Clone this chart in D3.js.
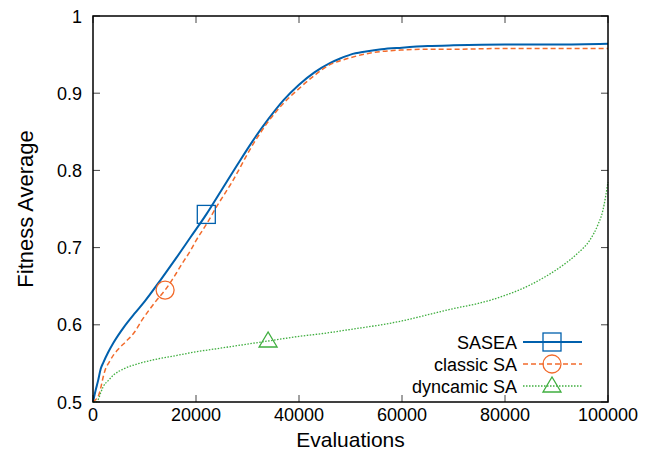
<!DOCTYPE html>
<html><head><meta charset="utf-8">
<script src="https://cdn.jsdelivr.net/npm/d3@7"></script>
<style>body{margin:0;background:#fff}svg{display:block}text{font-family:"Liberation Sans",Arial,Helvetica,sans-serif;fill:#000}</style>
</head><body>
<script>
// Data
const seriesNames = ["SASEA", "classic SA", "dyncamic SA"];
const saseaX = [0,500,1000,1500,2000,3000,4000,6000,8000,10000,13000,16000,19000,22000,25000,28000,31000,34000,37000,40000,43000,46000,48000,50000,53000,56000,60000,65000,70000,80000,90000,100000];
const saseaY = [0.5,0.515,0.528,0.543,0.551,0.565,0.577,0.597,0.614,0.630,0.657,0.685,0.714,0.743,0.775,0.807,0.838,0.866,0.891,0.911,0.927,0.939,0.945,0.950,0.954,0.957,0.959,0.961,0.962,0.963,0.963,0.964];
const classicX = [0,500,1000,1500,2000,2500,3000,4000,5000,6500,8000,9500,11000,12500,14000,16000,17000,19000,20000,22000,24000,27000,31000,34000,37000,40000,43000,46000,48000,50000,53000,56000,60000,65000,70000,80000,90000,100000];
const classicY = [0.5,0.503,0.507,0.518,0.533,0.544,0.550,0.561,0.569,0.579,0.590,0.606,0.620,0.633,0.645,0.665,0.676,0.697,0.709,0.730,0.753,0.785,0.833,0.863,0.887,0.906,0.923,0.937,0.942,0.946,0.951,0.954,0.956,0.957,0.957,0.958,0.958,0.958];
const dynX = [0,500,1000,1500,2000,3000,4000,6000,9000,12000,16000,20000,25000,30000,34000,40000,45000,50000,55000,60000,65000,70000,75000,80000,85000,88000,91000,94000,96500,98000,99000,100000];
const dynY = [0.5,0.500,0.503,0.512,0.520,0.528,0.535,0.543,0.550,0.555,0.560,0.565,0.570,0.575,0.579,0.585,0.589,0.594,0.599,0.605,0.613,0.621,0.628,0.638,0.652,0.663,0.676,0.692,0.710,0.729,0.748,0.785];
const markerX = [22000, 14000, 34000];
const xTicks = [0,20000,40000,60000,80000,100000];
const yTicks = [0.5,0.6,0.7,0.8,0.9,1];

const W = 649, H = 456;
const m = {l:93, r:608, t:16, b:402};
const svg = d3.select("body").append("svg").attr("width", W).attr("height", H);
const x = d3.scaleLinear().domain([0,100000]).range([m.l, m.r]);
const y = d3.scaleLinear().domain([0.5,1]).range([m.b, m.t]);

const colors = ["#0060ad", "#f26b2c", "#3fae3f"];
const dashes = [null, "5,3", "1.5,1.5"];
const widths = [2, 1.5, 1.3];
const xs = [saseaX, classicX, dynX];
const ys = [saseaY, classicY, dynY];

// ticks (inside, mirrored)
const tickLen = 7;
const g = svg.append("g");
xTicks.forEach(t => {
  g.append("line").attr("x1", x(t)).attr("x2", x(t)).attr("y1", m.b).attr("y2", m.b - tickLen).attr("stroke", "#444").attr("stroke-width", 1);
  g.append("line").attr("x1", x(t)).attr("x2", x(t)).attr("y1", m.t).attr("y2", m.t + tickLen).attr("stroke", "#444").attr("stroke-width", 1);
  g.append("text").attr("x", x(t)).attr("y", 421).attr("text-anchor", "middle").attr("font-size", 18).text(t);
});
yTicks.forEach(t => {
  g.append("line").attr("x1", m.l).attr("x2", m.l + tickLen).attr("y1", y(t)).attr("y2", y(t)).attr("stroke", "#444").attr("stroke-width", 1);
  g.append("line").attr("x1", m.r).attr("x2", m.r - tickLen).attr("y1", y(t)).attr("y2", y(t)).attr("stroke", "#444").attr("stroke-width", 1);
  g.append("text").attr("x", 82).attr("y", y(t) + 6.5).attr("text-anchor", "end").attr("font-size", 18).text(t === 1 ? "1" : d3.format(".1f")(t));
});

// lines
const line = d3.line().x(d => x(d[0])).y(d => y(d[1])).curve(d3.curveMonotoneX);
for (let i = 0; i < 3; i++) {
  const pts = xs[i].map((v, j) => [v, ys[i][j]]);
  svg.append("path").datum(pts).attr("d", line).attr("fill", "none")
    .attr("stroke", colors[i]).attr("stroke-width", widths[i])
    .attr("stroke-dasharray", dashes[i]);
}

function marker(sel, i, cx, cy) {
  if (i === 0) sel.append("rect").attr("x", cx - 9).attr("y", cy - 9).attr("width", 18).attr("height", 18);
  else if (i === 1) sel.append("circle").attr("cx", cx).attr("cy", cy).attr("r", 9);
  else sel.append("path").attr("d", `M${cx-9},${cy+6}L${cx+9},${cy+6}L${cx},${cy-9}Z`);
}
for (let i = 0; i < 3; i++) {
  const j = xs[i].indexOf(markerX[i]);
  const mg = svg.append("g").attr("fill", "none").attr("stroke", colors[i]).attr("stroke-width", 1.3);
  marker(mg, i, x(xs[i][j]), y(ys[i][j]));
}

// box
svg.append("rect").attr("x", m.l).attr("y", m.t).attr("width", m.r - m.l).attr("height", m.b - m.t)
  .attr("fill", "none").attr("stroke", "#000").attr("stroke-width", 1.5);

// legend
const legY = [342, 364, 386];
seriesNames.forEach((n, i) => {
  svg.append("text").attr("x", 517).attr("y", legY[i] + 6.5).attr("text-anchor", "end").attr("font-size", 18).text(n);
  svg.append("line").attr("x1", 523).attr("x2", 582).attr("y1", legY[i]).attr("y2", legY[i])
    .attr("stroke", colors[i]).attr("stroke-width", widths[i]).attr("stroke-dasharray", dashes[i]);
  const mg = svg.append("g").attr("fill", "none").attr("stroke", colors[i]).attr("stroke-width", 1.3);
  marker(mg, i, 552, legY[i]);
});

// axis titles
svg.append("text").attr("x", (m.l + m.r) / 2).attr("y", 447).attr("text-anchor", "middle").attr("font-size", 21).text("Evaluations");
svg.append("text").attr("transform", `translate(33,${(m.t + m.b) / 2}) rotate(-90)`).attr("text-anchor", "middle").attr("font-size", 22).text("Fitness Average");
</script>
</body></html>
